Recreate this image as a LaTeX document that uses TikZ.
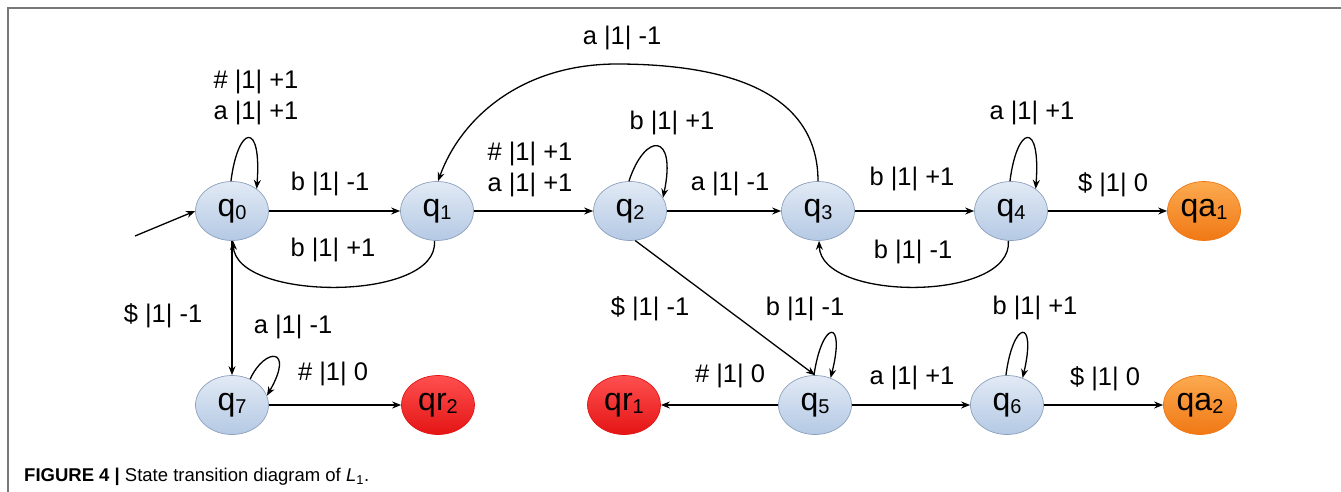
\documentclass[tikz,border=0pt]{standalone}
\usepackage{fontspec}
\setmainfont{Liberation Sans}
\usetikzlibrary{shapes.geometric,arrows.meta}

\definecolor{blueTop}{RGB}{226,234,245}
\definecolor{blueBot}{RGB}{180,201,228}
\definecolor{blueLine}{RGB}{140,160,188}
\definecolor{redTop}{RGB}{255,80,80}
\definecolor{redBot}{RGB}{228,20,20}
\definecolor{orTop}{RGB}{252,170,80}
\definecolor{orBot}{RGB}{240,120,20}
\definecolor{frameGray}{RGB}{120,120,120}

% state label: letter(s) with a lowered index
\newcommand{\stlab}[2]{#1\raisebox{-0.1em}{\fontsize{20}{20}\selectfont #2}}

\tikzset{
  stnode/.style={ellipse, minimum width=73pt, minimum height=59pt, inner sep=0pt,
    draw=blueLine, line width=0.7pt, top color=blueTop, bottom color=blueBot,
    font=\fontsize{32}{32}\selectfont},
  rejnode/.style={stnode, draw=redBot, top color=redTop, bottom color=redBot},
  accnode/.style={stnode, draw=orBot, top color=orTop, bottom color=orBot},
  edge/.style={line width=1.3pt, -{Stealth[length=9pt,width=7pt]}},
  lbl/.style={font=\fontsize{25.5}{31}\selectfont, align=center, inner sep=0pt},
}

\begin{document}
\begin{tikzpicture}[x=1pt,y=-1pt]
\useasboundingbox (0,0) rectangle (1341,492);

% panel frame
\draw[frameGray, line width=1.2pt] (8,492) -- (8,8) -- (1341,8);

% states, upper row
\node[stnode]  (q0)  at (232,211) {\stlab{q}{0}};
\node[stnode]  (q1)  at (437,211) {\stlab{q}{1}};
\node[stnode]  (q2)  at (630,211) {\stlab{q}{2}};
\node[stnode]  (q3)  at (818,211) {\stlab{q}{3}};
\node[stnode]  (q4)  at (1011,211) {\stlab{q}{4}};
\node[accnode] (qa1) at (1204,211) {\stlab{qa}{1}};
% states, lower row
\node[stnode]  (q7)  at (232,405) {\stlab{q}{7}};
\node[rejnode] (qr2) at (438,405) {\stlab{qr}{2}};
\node[rejnode] (qr1) at (624,405) {\stlab{qr}{1}};
\node[stnode]  (q5)  at (815,405) {\stlab{q}{5}};
\node[stnode]  (q6)  at (1007,405) {\stlab{q}{6}};
\node[accnode] (qa2) at (1200,405) {\stlab{qa}{2}};

% start arrow
\coordinate (init) at (135,236);
\draw[edge] (init) -- (q0.west);

% q0
\draw[edge] (q0.92) .. controls (238,125) and (262,120) .. (q0.42);
\node[lbl] (l00) at (256,97) {\# |1| +1\\a |1| +1};
\draw[edge] (q0) -- (q1);
\node[lbl] (l01) at (330,184) {b |1| -1};
\draw[edge] (q1.-95) .. controls (440,302) and (236,302) .. (q0.-88);
\node[lbl] (l10) at (333,250) {b |1| +1};
\draw[edge] (q0.south) -- (q7.north);
\node[lbl] (l07) at (163,316) {\$ |1| -1};

% q1 -> q2
\draw[edge] (q1) -- (q2);
\node[lbl] (l12) at (530,169) {\# |1| +1\\a |1| +1};

% q2
\draw[edge] (q2.92) .. controls (645,132) and (677,132) .. (q2.22);
\node[lbl] (l22) at (672,123) {b |1| +1};
\draw[edge] (q2) -- (q3);
\node[lbl] (l23) at (730,184) {a |1| -1};
\draw[edge] (q2.-80) -- (q5.north);
\node[lbl] (l25) at (650,309) {\$ |1| -1};

% q3
\draw[edge] (q3.north) .. controls (818,110) and (760,65) .. (620,64)
            .. controls (520,63) and (460,120) .. (q1.88);
\node[lbl] (l31) at (622,38) {a |1| -1};
\draw[edge] (q3) -- (q4);
\node[lbl] (l34) at (912,179) {b |1| +1};

% q4
\draw[edge] (q4.-95) .. controls (1013,302) and (821,302) .. (q3.-88);
\node[lbl] (l43) at (913,252) {b |1| -1};
\draw[edge] (q4.92) .. controls (1017,125) and (1041,120) .. (q4.42);
\node[lbl] (l44) at (1032,113) {a |1| +1};
\draw[edge] (q4) -- (qa1);
\node[lbl] (l4a) at (1113,185) {\$ |1| 0};

% q7
\draw[edge] (q7.55) .. controls (265,347) and (295,347) .. (q7.15);
\node[lbl] (l77) at (293,327) {a |1| -1};
\draw[edge] (q7) -- (qr2);
\node[lbl] (l7r) at (333,374) {\# |1| 0};

% q5
\draw[edge] (q5.92) .. controls (822,320) and (846,317) .. (q5.60);
\node[lbl] (l55) at (805,309) {b |1| -1};
\draw[edge] (q5) -- (qr1);
\node[lbl] (l5r) at (730,376) {\# |1| 0};
\draw[edge] (q5) -- (q6);
\node[lbl] (l56) at (912,378) {a |1| +1};

% q6
\draw[edge] (q6.92) .. controls (1013,320) and (1037,317) .. (q6.60);
\node[lbl] (l66) at (1035,308) {b |1| +1};
\draw[edge] (q6) -- (qa2);
\node[lbl] (l6a) at (1105,379) {\$ |1| 0};

% caption
\node[anchor=west, inner sep=0pt, font=\fontsize{18.5}{18.5}\selectfont] (cap) at (24,477)
  {\textbf{FIGURE 4 |} State transition diagram of \textit{L}\textsubscript{1}.};
\end{tikzpicture}
\end{document}
